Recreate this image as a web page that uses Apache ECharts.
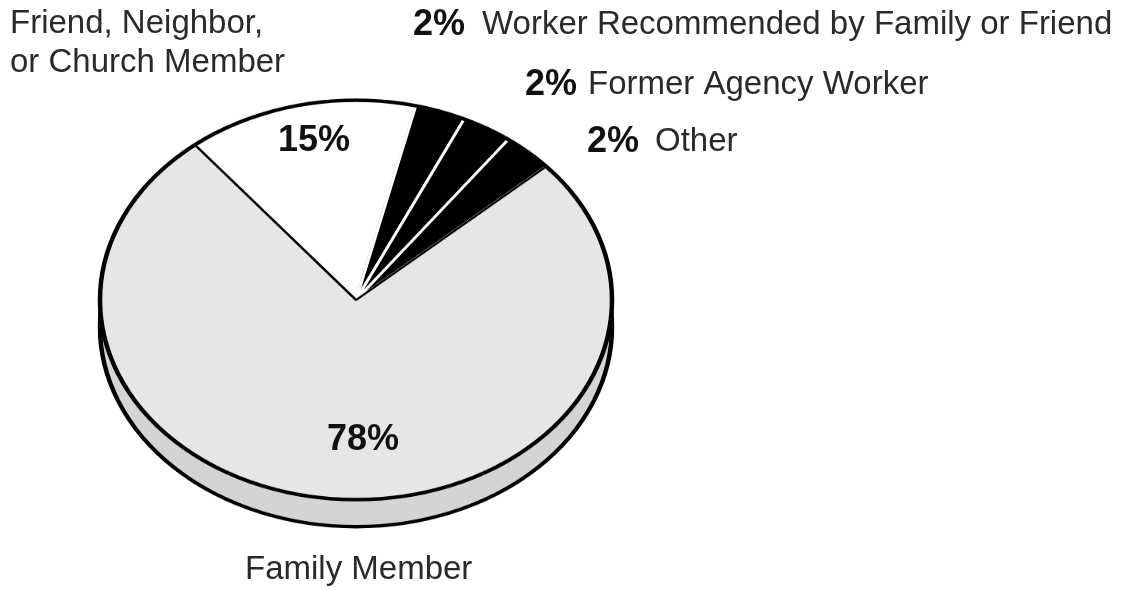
<!DOCTYPE html>
<html>
<head>
<meta charset="utf-8">
<script src="https://cdn.jsdelivr.net/npm/echarts@6/dist/echarts.min.js"></script>
<style>
html,body{margin:0;padding:0;background:#fff;}
#wrap{position:relative;width:1133px;height:590px;overflow:hidden;background:#fff;}
#pie{position:absolute;left:0;top:0;width:1133px;height:756px;transform:scaleY(0.78);transform-origin:0 0;}
#labels{position:absolute;left:0;top:0;width:1133px;height:590px;}
</style>
</head>
<body>
<div id="wrap"><div id="pie"></div><div id="labels"></div></div>
<script>
// Data
const categories = ['Friend, Neighbor, or Church Member', 'Worker Recommended by Family or Friend', 'Former Agency Worker', 'Other', 'Family Member'];
const values = [15, 2, 2, 2, 78];
const percentLabels = ['15%', '2%', '2%', '2%', '78%'];
const nameLines = [['Friend, Neighbor,', 'or Church Member'], ['Worker Recommended by Family or Friend'], ['Former Agency Worker'], ['Other'], ['Family Member']];

// Styles
const fills = ['#ffffff', '#000000', '#000000', '#000000', '#e6e6e6'];
const borders = ['#000000', '#ffffff', '#ffffff', '#ffffff', '#000000'];
const SCALE = 0.78;
const CX = 356, CY = 300, DEPTH = 27, R = 256;

const pieChart = echarts.init(document.getElementById('pie'), null, {renderer: 'canvas'});
const total = values.reduce((a, b) => a + b, 0);
pieChart.setOption({
  animation: false,
  backgroundColor: 'transparent',
  series: [
    {
      type: 'pie', silent: true, z: 1,
      center: [CX, (CY + DEPTH) / SCALE], radius: [0, R],
      label: {show: false}, labelLine: {show: false},
      itemStyle: {color: '#d4d4d4', borderColor: '#000', borderWidth: 4.5},
      data: [{name: 'side', value: total}]
    },
    {
      type: 'pie', silent: true, z: 2,
      center: [CX, CY / SCALE], radius: [0, R],
      startAngle: 129, clockwise: true, minAngle: 11.5,
      label: {show: false}, labelLine: {show: false},
      data: categories.map((c, i) => ({
        name: c, value: values[i],
        itemStyle: {color: fills[i], borderColor: borders[i], borderWidth: i >= 1 && i <= 3 ? 3 : 2.5}
      }))
    },
    {
      type: 'pie', silent: true, z: 3,
      center: [CX, CY / SCALE], radius: [0, R],
      label: {show: false}, labelLine: {show: false},
      itemStyle: {color: 'rgba(0,0,0,0)', borderColor: '#000', borderWidth: 4.5},
      data: [{name: 'outline', value: total}]
    }
  ]
});

// Label layout (left x, cap-centre y)
const pctPos = [[278, 141], [413, 25], [525, 85], [587, 142], [327, 440]];
const namePos = [[[10, 24], [10, 63]], [[482, 25]], [[588, 85]], [[655, 142]], [[245, 570]]];

const labelChart = echarts.init(document.getElementById('labels'));
const elements = [];
categories.forEach((c, i) => {
  elements.push({
    type: 'text', silent: true,
    style: {text: percentLabels[i], x: pctPos[i][0], y: pctPos[i][1], fill: '#111',
      font: 'bold 36px "Liberation Sans", Arial, sans-serif', verticalAlign: 'middle', align: 'left'}
  });
  nameLines[i].forEach((ln, j) => {
    elements.push({
      type: 'text', silent: true,
      style: {text: ln, x: namePos[i][j][0], y: namePos[i][j][1], fill: '#2a2a2a',
        font: '33px "Liberation Sans", Arial, sans-serif', verticalAlign: 'middle', align: 'left'}
    });
  });
});
labelChart.setOption({animation: false, graphic: {elements: elements}});
</script>
</body>
</html>
